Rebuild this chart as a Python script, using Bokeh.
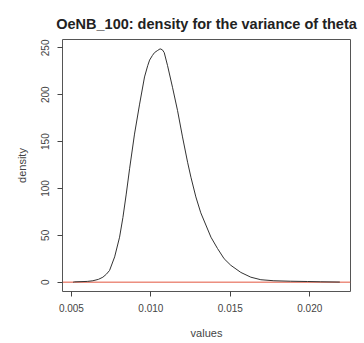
from bokeh.plotting import figure
from bokeh.models import Span, Range1d, FixedTicker
from bokeh.embed import file_html
from bokeh.resources import INLINE

title = "OeNB_100: density for the variance of theta"
x_label = "values"
y_label = "density"

values = [0.00511, 0.00520, 0.00600, 0.00635, 0.00670, 0.00698, 0.00720, 0.00740,
          0.00772, 0.00803, 0.00824, 0.00845, 0.00866, 0.00897, 0.00929, 0.00960,
          0.00980, 0.00992, 0.01010, 0.01023, 0.01040, 0.01058, 0.01072, 0.01084,
          0.01105, 0.01136, 0.01168, 0.01199, 0.01231, 0.01252, 0.01283, 0.01314,
          0.01346, 0.01378, 0.01419, 0.01461, 0.01503, 0.01566, 0.01629, 0.01692,
          0.01774, 0.01880, 0.01985, 0.02069, 0.02189]
density = [0.0, 0.3, 0.8, 1.5, 3.0, 5.3, 8.5, 12.5,
           27, 48, 69, 94, 121, 158, 190, 219,
           231, 237, 242, 245, 247, 249, 248, 245,
           231, 208, 183, 155, 128, 112, 91, 74,
           61, 48, 36, 25, 18, 10.4, 5.3, 2.6,
           1.5, 1.0, 0.7, 0.4, 0.1]

x_ticks = [0.005, 0.010, 0.015, 0.020]
x_tick_labels = ["0.005", "0.010", "0.015", "0.020"]
y_ticks = [0, 50, 100, 150, 200, 250]
y_tick_labels = ["0", "50", "100", "150", "200", "250"]

xmin, xmax = min(values), max(values)
ymin, ymax = min(density), max(density)
xpad = (xmax - xmin) * 0.04
ypad = (ymax - ymin) * 0.04

p = figure(width=364, height=343, output_backend="svg", toolbar_location=None,
           x_range=Range1d(xmin - xpad, xmax + xpad),
           y_range=Range1d(ymin - ypad, ymax + ypad),
           min_border_left=62, min_border_right=14, min_border_top=39, min_border_bottom=52)

p.title.text = title
p.title.align = "center"
p.title.text_font = "Liberation Sans"
p.title.text_font_size = "14.5px"
p.title.text_font_style = "bold"
p.title.text_color = "#222222"
p.title.standoff = 16

p.xgrid.visible = False
p.ygrid.visible = False
p.outline_line_color = "#555555"
p.outline_line_width = 1
p.background_fill_color = "white"
p.border_fill_color = "white"

for ax in (p.xaxis[0], p.yaxis[0]):
    ax.axis_line_color = None
    ax.major_tick_in = 0
    ax.major_tick_out = 5
    ax.major_tick_line_color = "#444444"
    ax.minor_tick_line_color = None
    ax.major_label_text_font = "Liberation Sans"
    ax.major_label_text_font_size = "10px"
    ax.major_label_text_color = "#444444"
    ax.axis_label_text_font = "Liberation Sans"
    ax.axis_label_text_font_size = "11px"
    ax.axis_label_text_font_style = "normal"
    ax.axis_label_text_color = "#444444"

p.xaxis[0].ticker = FixedTicker(ticks=x_ticks)
p.xaxis[0].major_label_overrides = dict(zip(x_ticks, x_tick_labels))
p.xaxis[0].axis_label = x_label
p.xaxis[0].major_label_standoff = 7
p.xaxis[0].axis_label_standoff = 12

p.yaxis[0].ticker = FixedTicker(ticks=y_ticks)
p.yaxis[0].major_label_overrides = dict(zip(y_ticks, y_tick_labels))
p.yaxis[0].major_label_orientation = "vertical"
p.yaxis[0].axis_label = y_label
p.yaxis[0].major_label_standoff = 8
p.yaxis[0].axis_label_standoff = 11

zero = Span(location=0, dimension="width", line_color="#E2553F", line_width=1, level="underlay")
p.add_layout(zero)

p.line(values, density, line_color="#333333", line_width=1, line_join="round")

open("out.html", "w").write(file_html(p, INLINE))
